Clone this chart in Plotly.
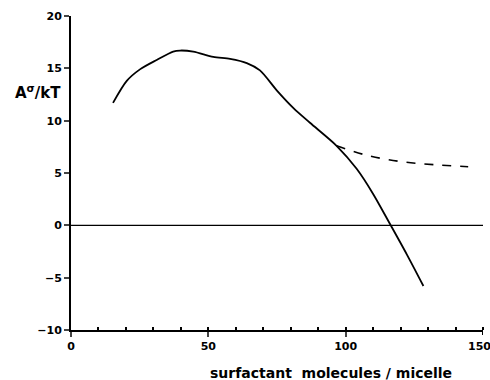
import plotly.graph_objects as go

# main curve
x_main = [15.3, 20.3, 25.1, 31.2, 37.2, 39.7, 44.5, 51.8, 57.9, 64.0, 68.8, 74.9, 81.0, 87.0, 96.7, 104.0, 110.0, 116.2, 122.3, 128.3]
y_main = [11.7, 13.8, 14.9, 15.8, 16.6, 16.7, 16.6, 16.1, 15.9, 15.5, 14.8, 12.9, 11.2, 9.8, 7.6, 5.4, 3.0, 0.1, -2.8, -5.8]
# dashed continuation
x_dash = [96.7, 107.6, 119.8, 131.9, 144.6]
y_dash = [7.6, 6.7, 6.1, 5.8, 5.6]
# zero line
x_zero = [0, 150]
y_zero = [0, 0]

x_ticks = [0, 50, 100, 150]
y_ticks = [-10, -5, 0, 5, 10, 15, 20]

fig = go.Figure()
fig.add_trace(go.Scatter(x=x_zero, y=y_zero, mode="lines",
                         line=dict(color="black", width=1.2), showlegend=False))
fig.add_trace(go.Scatter(x=x_main, y=y_main, mode="lines",
                         line=dict(color="black", width=1.8, shape="spline", smoothing=0.8),
                         showlegend=False))
fig.add_trace(go.Scatter(x=x_dash, y=y_dash, mode="lines",
                         line=dict(color="black", width=1.6, dash="dash", shape="spline"),
                         showlegend=False))

tickfont = dict(family="DejaVu Sans", size=11, color="black", weight="bold")
fig.update_layout(
    width=490, height=380,
    margin=dict(l=71, r=7, t=16, b=50),
    plot_bgcolor="white", paper_bgcolor="white",
    xaxis=dict(range=[0, 150], tickvals=x_ticks[:-1], ticks="outside", ticklen=5, tickwidth=2,
               showline=True, linecolor="black", linewidth=2, showgrid=False, zeroline=False,
               tickfont=tickfont,
               minor=dict(tickvals=list(range(10, 150, 10)) + [150], ticks="inside", ticklen=3,
                          tickwidth=2, tickcolor="black", showgrid=False)),
    yaxis=dict(range=[-10, 20], tickvals=y_ticks, ticks="outside", ticklen=5, tickwidth=2,
               showline=True, linecolor="black", linewidth=2, showgrid=False, zeroline=False,
               tickfont=tickfont),
)
# last x tick label and tick (placed by hand so it stays inside the page)
fig.add_annotation(xref="x", yref="paper", x=x_ticks[-1], y=0, yshift=-8, xshift=-4,
                   xanchor="center", yanchor="top",
                   text=str(x_ticks[-1]), showarrow=False, font=tickfont)
fig.add_shape(type="line", xref="x", yref="paper", x0=x_ticks[-1], x1=x_ticks[-1],
              y0=0, y1=-5 / 314, line=dict(color="black", width=2))
fig.add_annotation(xref="x", yref="paper", x=94.5, y=0, yshift=-33, xanchor="center", yanchor="top",
                   text="surfactant  molecules / micelle", showarrow=False,
                   font=dict(family="DejaVu Sans", size=14, color="black", weight="bold"))
fig.add_annotation(xref="paper", yref="y", x=-0.019, y=12.7, xanchor="right", yanchor="middle",
                   text="A<sup>σ</sup>/kT", showarrow=False,
                   font=dict(family="DejaVu Sans", size=15, color="black", weight="bold"))
fig.write_html("out.html")
